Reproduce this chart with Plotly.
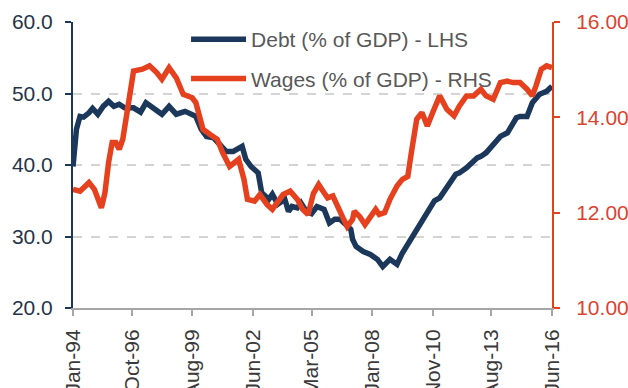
import plotly.graph_objects as go

# ---- data ----
debt_dates = ["1994-01", "1994-03", "1994-05", "1994-07", "1994-10", "1994-12", "1995-03", "1995-06",
              "1995-09", "1995-12", "1996-03", "1996-06", "1996-11", "1997-03", "1997-06", "1997-10",
              "1998-03", "1998-07", "1998-11", "1999-04", "1999-09", "1999-10", "2000-01", "2000-04",
              "2000-08", "2000-12", "2001-03", "2001-07", "2001-12", "2002-02", "2002-05", "2002-09",
              "2002-11", "2003-03", "2003-05", "2003-08", "2003-12", "2004-02", "2004-04", "2004-07",
              "2004-09", "2004-12", "2005-03", "2005-06", "2005-10", "2006-01", "2006-04", "2006-07",
              "2006-10", "2007-01", "2007-02", "2007-04", "2007-08", "2007-12", "2008-04", "2008-07",
              "2008-11", "2009-03", "2009-06", "2009-10", "2010-02", "2010-06", "2010-09", "2010-12",
              "2011-03", "2011-09", "2011-12", "2012-02", "2012-06", "2012-12", "2013-02", "2013-05",
              "2013-11", "2014-01", "2014-05", "2014-10", "2014-12", "2015-04", "2015-07", "2015-11",
              "2016-03", "2016-06"]
debt_values = [39.8, 45.0, 46.8, 46.7, 47.3, 47.9, 47.1, 48.2,
               48.9, 48.2, 48.5, 48.0, 48.0, 47.4, 48.7, 47.9,
               47.1, 48.2, 47.1, 47.5, 46.8, 46.8, 45.0, 44.0,
               43.8, 42.6, 41.9, 41.9, 42.6, 40.8, 39.8, 38.9,
               36.1, 35.2, 35.9, 34.5, 35.2, 33.5, 34.2, 34.0,
               34.7, 33.5, 33.2, 34.2, 33.8, 31.9, 32.4, 32.4,
               31.7, 31.0, 29.6, 28.6, 27.9, 27.5, 26.8, 25.8,
               26.8, 26.1, 27.7, 29.3, 31.0, 32.4, 33.8, 35.0,
               35.4, 37.5, 38.7, 38.9, 39.6, 41.0, 41.2, 41.7,
               43.6, 44.0, 44.5, 46.6, 46.8, 46.8, 48.7, 49.9,
               50.3, 51.0]

wage_dates = ["1994-01", "1994-05", "1994-10", "1995-01", "1995-05", "1995-07", "1995-09", "1995-11",
              "1996-01", "1996-03", "1996-05", "1996-08", "1996-11", "1997-04", "1997-08", "1997-12",
              "1998-03", "1998-07", "1998-11", "1999-03", "1999-08", "1999-10", "2000-02", "2000-06",
              "2000-10", "2001-01", "2001-05", "2001-10", "2002-01", "2002-03", "2002-07", "2002-10",
              "2003-02", "2003-05", "2003-08", "2003-11", "2004-03", "2004-07", "2004-10", "2005-01",
              "2005-04", "2005-07", "2005-10", "2005-12", "2006-03", "2006-06", "2006-09", "2006-11",
              "2007-02", "2007-03", "2007-06", "2007-09", "2007-12", "2008-03", "2008-05", "2008-08",
              "2008-11", "2009-03", "2009-06", "2009-09", "2009-11", "2010-02", "2010-05", "2010-08",
              "2010-11", "2011-03", "2011-07", "2011-11", "2012-02", "2012-06", "2012-10", "2013-02",
              "2013-05", "2013-09", "2014-01", "2014-05", "2014-08", "2014-12", "2015-04", "2015-07",
              "2015-09", "2015-12", "2016-03", "2016-06"]
wage_values = [12.49, 12.45, 12.63, 12.49, 12.10, 12.42, 13.05, 13.47,
               13.47, 13.33, 13.54, 14.31, 14.97, 15.01, 15.08, 14.94,
               14.80, 15.04, 14.83, 14.48, 14.41, 14.31, 13.75, 13.64,
               13.54, 13.26, 12.97, 13.12, 12.70, 12.28, 12.24, 12.38,
               12.17, 12.07, 12.24, 12.38, 12.45, 12.28, 12.07, 11.96,
               12.40, 12.59, 12.42, 12.31, 12.35, 12.07, 11.86, 11.71,
               11.86, 12.03, 11.92, 11.75, 11.89, 12.07, 11.96, 12.00,
               12.28, 12.56, 12.70, 12.76, 13.26, 13.96, 14.10, 13.82,
               14.10, 14.45, 14.17, 14.03, 14.24, 14.45, 14.45, 14.59,
               14.45, 14.38, 14.73, 14.76, 14.73, 14.73, 14.59, 14.45,
               14.66, 15.01, 15.08, 15.04]

tick_dates = ["1994-01-01", "1996-10-01", "1999-08-01", "2002-06-01", "2005-03-01",
              "2008-01-01", "2010-11-01", "2013-08-01", "2016-06-01"]
tick_labels = ["Jan-94", "Oct-96", "Aug-99", "Jun-02", "Mar-05", "Jan-08", "Nov-10", "Aug-13", "Jun-16"]

series_names = ["Debt (% of GDP) - LHS", "Wages (% of GDP) - RHS"]

NAVY = "#1b385b"
RED = "#e5411f"
RED_TXT = "#d94430"
FONT = "Liberation Sans, Arial, sans-serif"

fig = go.Figure()
fig.add_trace(go.Scatter(x=debt_dates, y=debt_values, name=series_names[0], mode="lines",
                         line=dict(color=NAVY, width=5.5), yaxis="y", legendgroup="a"))
fig.add_trace(go.Scatter(x=wage_dates, y=wage_values, name=series_names[1], mode="lines",
                         line=dict(color=RED, width=5.5), yaxis="y2", legendgroup="b"))

fig.update_layout(
    width=628, height=388,
    margin=dict(l=73, r=76, t=22, b=80),
    paper_bgcolor="white", plot_bgcolor="white",
    font=dict(family=FONT, size=21, color="#595959"),
    showlegend=True,
    legend=dict(x=0.236, y=1.01, xanchor="left", yanchor="top",
                bgcolor="rgba(0,0,0,0)", font=dict(size=21, color="#595959"),
                traceorder="grouped", tracegroupgap=9, itemwidth=55),
    xaxis=dict(type="date", range=["1994-01-01", "2016-06-01"], automargin=False,
               tickmode="array", tickvals=tick_dates, ticktext=tick_labels,
               tickangle=-90, ticks="outside", ticklen=6, tickwidth=2, tickcolor="#a6a6a6",
               showline=True, linecolor="#a6a6a6", linewidth=2, showgrid=False,
               tickfont=dict(size=21, color="#3a3a3a"), ticklabelstandoff=5, zeroline=False),
    yaxis=dict(range=[20, 60], dtick=10, tickformat=".1f", automargin=False,
               showline=True, linecolor=NAVY, linewidth=2,
               ticks="outside", ticklen=6, tickwidth=2, tickcolor=NAVY,
               showgrid=True, gridcolor="#d4d4d4", gridwidth=1.5, griddash="dash",
               tickfont=dict(size=21, color="#25344b"), ticklabelstandoff=8, zeroline=False),
    yaxis2=dict(range=[10, 16], dtick=2, tickformat=".2f", overlaying="y", side="right",
                automargin=False,
                showline=True, linecolor=RED, linewidth=2,
                ticks="outside", ticklen=6, tickwidth=2, tickcolor=RED,
                showgrid=False, tickfont=dict(size=21, color=RED_TXT),
                ticklabelstandoff=12, zeroline=False),
)

fig.write_html("out.html")
